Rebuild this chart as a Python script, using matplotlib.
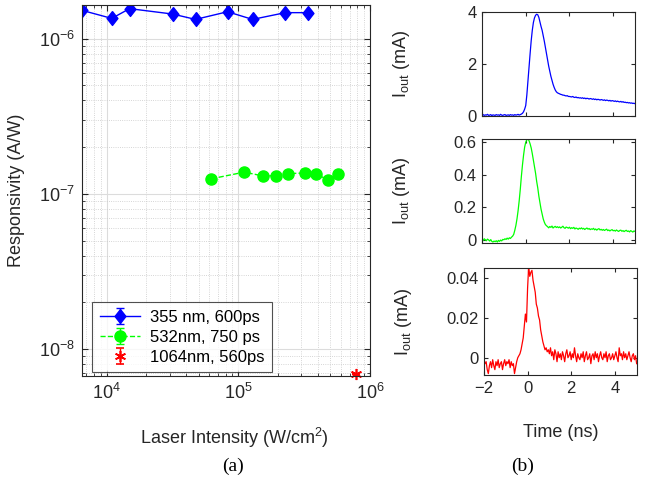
import numpy as np
import matplotlib.pyplot as plt
from matplotlib.ticker import LogLocator, NullFormatter

plt.rcParams['font.family'] = ['Liberation Sans', 'DejaVu Sans']
plt.rcParams['mathtext.default'] = 'regular'
plt.rcParams['font.size'] = 12

# responsivity vs. laser intensity
int_355 = [6.5e3, 1.09e4, 1.49e4, 3.16e4, 4.72e4, 8.26e4, 1.28e5, 2.27e5, 3.39e5]
resp_355 = [1.52e-6, 1.35e-6, 1.56e-6, 1.44e-6, 1.33e-6, 1.49e-6, 1.33e-6, 1.47e-6, 1.47e-6]
int_532 = [6.24e4, 1.11e5, 1.55e5, 1.94e5, 2.39e5, 3.22e5, 3.9e5, 4.81e5, 5.72e5]
resp_532 = [1.25e-7, 1.38e-7, 1.30e-7, 1.31e-7, 1.35e-7, 1.36e-7, 1.35e-7, 1.22e-7, 1.34e-7]
int_1064 = [7.8e5]
resp_1064 = [6.9e-9]

# output current traces, 0.05 ns sampling from -2 to 5 ns
t_ns = np.round(np.arange(-2.0, 5.0001, 0.05), 2)

i_355 = [
    0.03, 0.05, 0.02, 0.04, 0.03, 0.06, 0.02, 0.03, 0.05, 0.01,
    0.04, 0.03, 0.02, 0.05, 0.03, 0.04, 0.02, 0.06, 0.03, 0.02,
    0.04, 0.05, 0.02, 0.03, 0.04, 0.02, 0.05, 0.03, 0.04, 0.02,
    0.05, 0.03, 0.04, 0.06, 0.03, 0.05,
    0.07, 0.10, 0.16, 0.26, 0.40, 0.80, 1.35, 1.90, 2.40, 2.90,
    3.30, 3.60, 3.78, 3.88, 3.92, 3.90, 3.80, 3.62, 3.45, 3.30,
    3.10, 2.88, 2.65, 2.40, 2.15, 1.92, 1.72, 1.53, 1.37, 1.22,
    1.10, 1.00, 0.93, 0.89, 0.87,
    0.85, 0.83, 0.82, 0.80, 0.80, 0.78, 0.77, 0.78, 0.75, 0.75,
    0.74, 0.73, 0.75, 0.72, 0.71, 0.73, 0.70, 0.71, 0.69, 0.70,
    0.68, 0.70, 0.67, 0.69, 0.66, 0.68, 0.67, 0.65, 0.67, 0.66,
    0.64, 0.66, 0.63, 0.65, 0.62, 0.64, 0.63, 0.61, 0.63, 0.62,
    0.60, 0.62, 0.59, 0.61, 0.60, 0.58, 0.60, 0.57, 0.59, 0.58,
    0.56, 0.58, 0.55, 0.57, 0.55, 0.54, 0.56, 0.53, 0.55, 0.52,
    0.53, 0.51, 0.52, 0.50, 0.51, 0.49, 0.50, 0.48, 0.49, 0.47,
]

i_532 = [
    0.005, -0.003, 0.008, 0.002, -0.004, 0.006, 0.001, -0.006, 0.003, -0.008,
    -0.012, -0.006, -0.010, -0.004, -0.012, -0.002, -0.008, 0.000, -0.005, 0.004,
    0.002, 0.008, 0.004, 0.012, 0.006, 0.014, 0.010,
    0.018, 0.024, 0.035, 0.060, 0.090, 0.130, 0.180, 0.240, 0.310, 0.390,
    0.460, 0.520, 0.570, 0.600, 0.615, 0.620, 0.610, 0.590, 0.565, 0.530,
    0.490, 0.450, 0.410, 0.360, 0.320, 0.270, 0.230, 0.190, 0.160, 0.130,
    0.110, 0.095, 0.088, 0.082,
    0.075, 0.083, 0.078, 0.086, 0.074, 0.080, 0.084, 0.077, 0.082, 0.076,
    0.081, 0.074, 0.079, 0.085, 0.076, 0.072, 0.080, 0.077, 0.073, 0.079,
    0.070, 0.076, 0.072, 0.078, 0.068, 0.074, 0.071, 0.066, 0.073, 0.069,
    0.075, 0.068, 0.072, 0.065, 0.070, 0.074, 0.067, 0.071, 0.064, 0.069,
    0.066, 0.072, 0.063, 0.068, 0.061, 0.067, 0.070, 0.062, 0.066, 0.060,
    0.065, 0.059, 0.063, 0.067, 0.058, 0.062, 0.056, 0.061, 0.064, 0.057,
    0.060, 0.055, 0.062, 0.057, 0.053, 0.059, 0.061, 0.054, 0.058, 0.052,
    0.057, 0.060, 0.053, 0.056, 0.050, 0.058, 0.054, 0.049, 0.056, 0.053,
]

i_1064 = [
    -0.001, -0.003, -0.002, -0.006, -0.008, -0.004, -0.002, -0.005, -0.001, -0.004,
    -0.006, -0.002, -0.004, -0.001, -0.005, -0.003, -0.002, -0.006, -0.003, -0.001,
    -0.004, -0.002, -0.003, -0.001, -0.005, -0.002, -0.004, -0.003, -0.008, -0.005,
    -0.002, 0.000,
    0.001, 0.002, 0.004, 0.007, 0.010, 0.016, 0.022, 0.018, 0.035, 0.046,
    0.041, 0.043, 0.044, 0.039, 0.036, 0.033, 0.027, 0.025, 0.021, 0.019,
    0.014, 0.011, 0.008, 0.006, 0.004, 0.005, 0.003,
    0.004, 0.002, 0.005, 0.001, 0.003, -0.001, 0.004, 0.002, -0.002, 0.003,
    0.000, 0.002, -0.001, 0.003, 0.001, -0.002, 0.002, 0.004, 0.000, 0.001,
    0.003, -0.001, 0.002, 0.000, 0.005, 0.001, -0.002, 0.002, 0.000, -0.001,
    0.002, 0.000, 0.003, -0.002, 0.001, 0.003, -0.001, 0.000, 0.002, -0.003,
    0.001, 0.002, -0.001, 0.003, 0.000, 0.002, -0.002, 0.001, 0.003, 0.000,
    -0.001, 0.002, 0.000, 0.003, -0.002, 0.001, 0.002, -0.001, 0.000, 0.002,
    -0.001, 0.001, 0.003, 0.000, -0.002, 0.005, 0.001, 0.002, -0.001, 0.003,
    0.000, 0.002, -0.001, 0.001, 0.003, 0.000, -0.002, 0.001, 0.002, -0.001,
    0.001, -0.003,
]

AX_COL = '#262626'
# slightly narrow diamond, asterisk like MATLAB's '*'
DIAMOND = [(0, 1), (0.78, 0), (0, -1), (-0.78, 0), (0, 1)]
ASTERISK = (6, 2, 0)

fig = plt.figure(figsize=(6.47, 4.87), dpi=100)


def style_axes(ax):
    ax.tick_params(which='both', direction='in', top=True, right=True,
                   colors=AX_COL, labelcolor=AX_COL)
    for s in ax.spines.values():
        s.set_color(AX_COL)
        s.set_linewidth(0.8)


# ---- (a) responsivity
ax = fig.add_axes([0.127, 0.228, 0.445, 0.762])
ax.set_xscale('log')
ax.set_yscale('log')
ax.errorbar(int_355, resp_355, yerr=np.zeros(len(resp_355)), color='b', marker=DIAMOND,
            ms=10, lw=1, capsize=3, label='355 nm, 600ps')
ax.errorbar(int_532, resp_532, yerr=np.zeros(len(resp_532)), color='#00ff00', marker='o',
            ms=8, lw=1, ls='--', capsize=3, label='532nm, 750 ps')
ax.errorbar(int_1064, resp_1064, yerr=np.zeros(len(resp_1064)), color='r', marker=ASTERISK,
            ms=8, mew=1.2, lw=1, ls='none', capsize=3, label='1064nm, 560ps', clip_on=False)
ax.set_xlim(6.5e3, 1e6)
ax.set_ylim(6.7e-9, 1.65e-6)
ax.xaxis.set_minor_locator(LogLocator(subs=np.arange(2, 10), numticks=20))
ax.yaxis.set_minor_locator(LogLocator(subs=np.arange(2, 10), numticks=20))
ax.xaxis.set_minor_formatter(NullFormatter())
ax.yaxis.set_minor_formatter(NullFormatter())
ax.grid(True, which='major', color='#dcdcdc', lw=0.8)
ax.grid(True, which='minor', color='#c8c8c8', lw=0.6, ls=':')
ax.set_axisbelow(True)
style_axes(ax)
ax.tick_params(which='major', length=4, labelsize=13, pad=5)
ax.tick_params(which='minor', length=2)
ax.set_ylabel('Responsivity (A/W)', fontsize=13, color=AX_COL)
ax.yaxis.set_label_coords(-0.2, 0.5)
ax.set_xlabel('Laser Intensity (W/cm$^2$)', fontsize=13, color=AX_COL)
ax.xaxis.set_label_coords(0.53, -0.135)
leg = ax.legend(loc='lower left', bbox_to_anchor=(0.035, 0.01), borderaxespad=0,
                fancybox=False, edgecolor=AX_COL, fontsize=12, handlelength=2.4,
                borderpad=0.45, labelspacing=0.3, handletextpad=0.6)
leg.get_frame().set_linewidth(0.8)

# ---- (b) output current traces
panels = [
    ([0.745, 0.762, 0.2365, 0.213], i_355, 'b', (0, 4), [0, 2, 4], ['0', '2', '4']),
    ([0.745, 0.501, 0.2365, 0.2136], i_532, '#00ff00', (-0.018, 0.62),
     [0, 0.2, 0.4, 0.6], ['0', '0.2', '0.4', '0.6']),
    ([0.748, 0.23, 0.236, 0.2197], i_1064, 'r', (-0.0087, 0.0452),
     [0, 0.02, 0.04], ['0', '0.02', '0.04']),
]
for k, (pos, trace, col, ylim, yt, ytl) in enumerate(panels):
    axb = fig.add_axes(pos)
    axb.plot(t_ns, trace, color=col, lw=0.9)
    axb.set_xlim(-2, 5)
    axb.set_ylim(*ylim)
    axb.set_xticks([-2, 0, 2, 4])
    axb.set_yticks(yt)
    axb.set_yticklabels(ytl)
    style_axes(axb)
    axb.tick_params(length=3, labelsize=12, pad=4)
    if k < 2:
        axb.set_xticklabels([])
    axb.set_ylabel('I$_{out}$ (mA)', fontsize=13, color=AX_COL)
    axb.yaxis.set_label_coords(-0.46, 0.5)
    if k == 2:
        axb.set_xlabel('Time (ns)', fontsize=13, color=AX_COL)
        axb.xaxis.set_label_coords(0.5, -0.46)

fig.text(0.36, 0.043, '(a)', family='Liberation Serif', fontsize=14, ha='center', va='center')
fig.text(0.807, 0.043, '(b)', family='Liberation Serif', fontsize=14, ha='center', va='center')

fig.savefig('out.png', dpi=100, facecolor='white')
